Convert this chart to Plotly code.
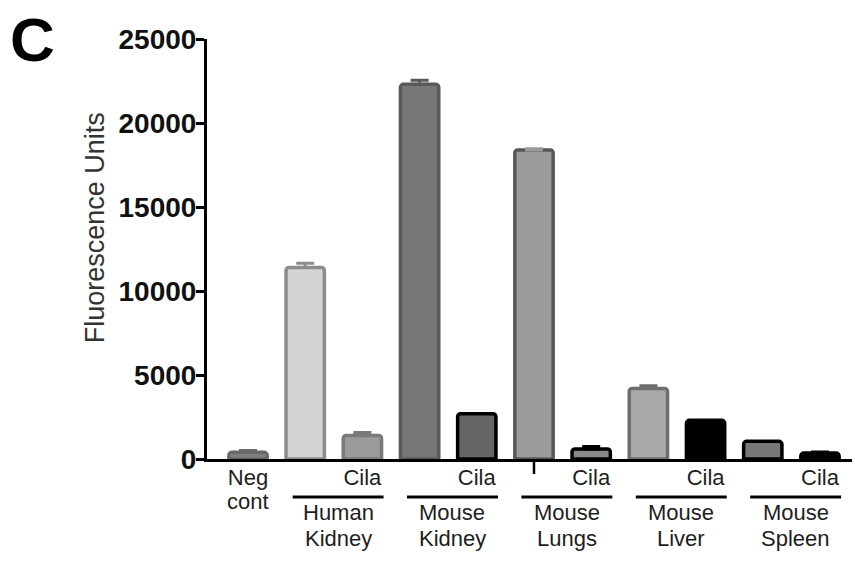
import plotly.graph_objects as go

# Fluorescence readings per sample (mean and upper error)
samples = ["Neg cont", "Human Kidney", "Human Kidney Cila", "Mouse Kidney",
           "Mouse Kidney Cila", "Mouse Lungs", "Mouse Lungs Cila", "Mouse Liver",
           "Mouse Liver Cila", "Mouse Spleen", "Mouse Spleen Cila"]
values = [400, 11400, 1400, 22300, 2700, 18400, 600, 4200, 2300, 1050, 350]
errors = [100, 250, 180, 250, 0, 60, 150, 160, 0, 0, 60]
tick_text = ["Neg", "", "Cila", "", "Cila", "", "Cila", "", "Cila", "", "Cila"]
groups = [["Human", "Kidney"], ["Mouse", "Kidney"], ["Mouse", "Lungs"],
          ["Mouse", "Liver"], ["Mouse", "Spleen"]]
group_start = [1, 3, 5, 7, 9]
y_ticks = [0, 5000, 10000, 15000, 20000, 25000]

fills = ["#808080", "#d4d4d4", "#9a9a9a", "#777777", "#666666", "#9c9c9c",
         "#8a8a8a", "#a9a9a9", "#000000", "#777777", "#000000"]
edges = ["#6a6a6a", "#8c8c8c", "#7a7a7a", "#5a5a5a", "#000000", "#585858",
         "#000000", "#6e6e6e", "#000000", "#000000", "#000000"]
err_colors = ["#6a6a6a", "#8c8c8c", "#7a7a7a", "#5a5a5a", "#000000", "#9a9a9a",
              "#000000", "#6e6e6e", "#000000", "#000000", "#000000"]

FONT = "Liberation Sans, Arial, sans-serif"
LABEL_FONT = dict(family=FONT, size=22, color="#1e1e1e")
PLOT_H = 420  # plot area height in px, used to turn pixel offsets into paper units

fig = go.Figure()
for i, (v, e) in enumerate(zip(values, errors)):
    fig.add_trace(go.Bar(
        x=[i], y=[v], width=0.67,
        marker=dict(color=fills[i], line=dict(color=edges[i], width=3.5), cornerradius=3),
        error_y=dict(type="data", symmetric=False, array=[e], arrayminus=[0],
                     color=err_colors[i], thickness=3, width=9, visible=e > 0),
        showlegend=False, hoverinfo="skip",
    ))

# second line of the negative-control label
fig.add_annotation(x=0, y=-42 / PLOT_H, xref="x", yref="paper", text="cont",
                   showarrow=False, xanchor="center", yanchor="middle", font=LABEL_FONT)

# underline bars and names below each tissue pair
for start, lines in zip(group_start, groups):
    fig.add_shape(type="line", xref="x", yref="paper",
                  x0=start - 0.22, x1=start + 1.37, y0=-38 / PLOT_H, y1=-38 / PLOT_H,
                  line=dict(color="black", width=3))
    for k, word in enumerate(lines):
        fig.add_annotation(x=start + 0.575, y=-(53 + 26 * k) / PLOT_H, xref="x", yref="paper",
                           text=word, showarrow=False, xanchor="center", yanchor="middle",
                           font=LABEL_FONT)

# small stray tick under the lung bar
fig.add_shape(type="line", xref="x", yref="paper", x0=5, x1=5, y0=0, y1=-15 / PLOT_H,
              line=dict(color="black", width=2.5))

fig.add_annotation(x=-0.174, y=0.551, xref="paper", yref="paper",
                   text="Fluorescence Units", textangle=-90, showarrow=False,
                   xanchor="center", yanchor="middle",
                   font=dict(family=FONT, size=27, color="#333333"))
fig.add_annotation(x=-0.27, y=1.0, xref="paper", yref="paper", text="<b>C</b>",
                   showarrow=False, xanchor="center", yanchor="middle",
                   font=dict(family=FONT, size=62, color="black"))

fig.update_layout(
    width=855, height=563,
    margin=dict(l=207, r=3, t=39, b=104),
    paper_bgcolor="white", plot_bgcolor="white",
    barmode="overlay",
    font=dict(family=FONT),
    xaxis=dict(range=[-0.717, 10.56], tickmode="array", tickvals=list(range(len(samples))),
               ticktext=tick_text, ticks="", showline=True, linecolor="black", linewidth=3,
               showgrid=False, zeroline=False, ticklabelstandoff=-3,
               tickfont=LABEL_FONT),
    yaxis=dict(range=[0, 25000], tickmode="array", tickvals=y_ticks,
               ticktext=[str(t) for t in y_ticks],
               ticks="outside", ticklen=8, tickwidth=3, tickcolor="black",
               ticklabelstandoff=-6,
               showline=True, linecolor="black", linewidth=3,
               showgrid=False, zeroline=False,
               tickfont=dict(family=FONT, size=28, color="#111111", weight="bold")),
)

fig.write_html("out.html")
